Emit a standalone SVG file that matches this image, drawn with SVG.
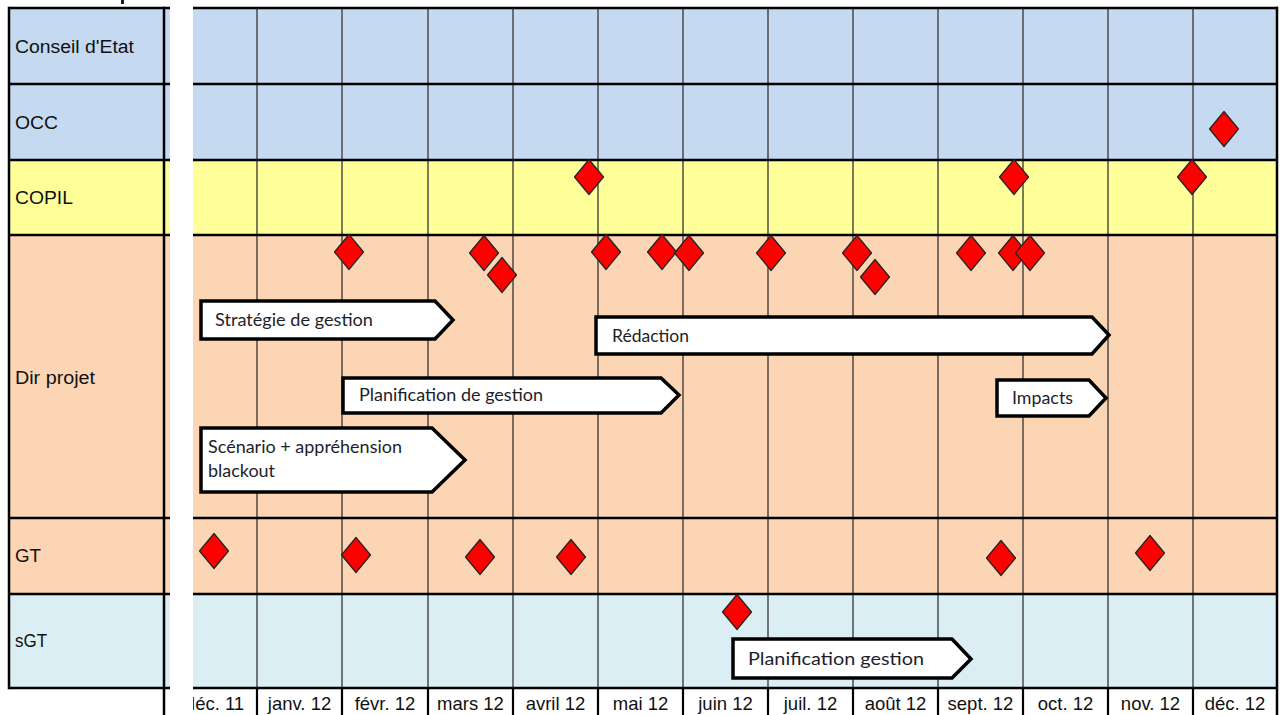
<svg xmlns="http://www.w3.org/2000/svg" xmlns:xlink="http://www.w3.org/1999/xlink" width="1282" height="715" viewBox="0 0 1282 715">
<style>
.lbl{font-family:"Liberation Sans",Arial,sans-serif;font-size:18px;fill:#111}
.ax{font-family:"Liberation Sans",Arial,sans-serif;font-size:18.5px;fill:#111;text-anchor:middle}
.task{fill:#fff;stroke:#000;stroke-width:3.5;stroke-linejoin:miter}
.tt{font-family:Lato,"Open Sans",sans-serif;font-size:17px;fill:#1e1e2a}
.row{stroke:#000;stroke-width:2.5}
.vl{stroke:#333;stroke-width:1.3}
.axl{stroke:#000;stroke-width:2.2}
.ms{fill:#ff0000;stroke:#222;stroke-width:1.2;stroke-linejoin:round}
</style>
<defs>
<polygon id="dia" points="0,-17.5 14.5,0 0,17.5 -14.5,0"/>
<clipPath id="clipAxis"><rect x="193" y="688" width="1090" height="27"/></clipPath>
</defs>
<rect width="1282" height="715" fill="#fff"/>
<rect x="121" y="0" width="3" height="4" fill="#1a1a2a"/>

<g id="lane-conseil">
<rect x="9" y="8" width="161" height="76" fill="#c5d9f1"/>
<rect x="193" y="8" width="1084" height="76" fill="#c5d9f1"/>
<text class="lbl" x="15" y="53" textLength="119" lengthAdjust="spacingAndGlyphs">Conseil d'Etat</text>
</g>
<g id="lane-occ">
<rect x="9" y="84" width="161" height="76" fill="#c5d9f1"/>
<rect x="193" y="84" width="1084" height="76" fill="#c5d9f1"/>
<text class="lbl" x="15" y="129" textLength="43" lengthAdjust="spacingAndGlyphs">OCC</text>
</g>
<g id="lane-copil">
<rect x="9" y="160" width="161" height="75" fill="#ffff99"/>
<rect x="193" y="160" width="1084" height="75" fill="#ffff99"/>
<text class="lbl" x="15" y="204" textLength="58" lengthAdjust="spacingAndGlyphs">COPIL</text>
</g>
<g id="lane-dir">
<rect x="9" y="235" width="161" height="283" fill="#fcd5b4"/>
<rect x="193" y="235" width="1084" height="283" fill="#fcd5b4"/>
<text class="lbl" x="15" y="384" textLength="80" lengthAdjust="spacingAndGlyphs">Dir projet</text>
</g>
<g id="lane-gt">
<rect x="9" y="518" width="161" height="76" fill="#fcd5b4"/>
<rect x="193" y="518" width="1084" height="76" fill="#fcd5b4"/>
<text class="lbl" x="15" y="562" textLength="26" lengthAdjust="spacingAndGlyphs">GT</text>
</g>
<g id="lane-sgt">
<rect x="9" y="594" width="161" height="94" fill="#daeef3"/>
<rect x="193" y="594" width="1084" height="94" fill="#daeef3"/>
<text class="lbl" x="15" y="647" textLength="32" lengthAdjust="spacingAndGlyphs">sGT</text>
</g>

<g id="grid">
<g class="vl">
<line x1="257" y1="8" x2="257" y2="688"/>
<line x1="342" y1="8" x2="342" y2="688"/>
<line x1="428" y1="8" x2="428" y2="688"/>
<line x1="513" y1="8" x2="513" y2="688"/>
<line x1="598" y1="8" x2="598" y2="688"/>
<line x1="683" y1="8" x2="683" y2="688"/>
<line x1="768" y1="8" x2="768" y2="688"/>
<line x1="853" y1="8" x2="853" y2="688"/>
<line x1="938" y1="8" x2="938" y2="688"/>
<line x1="1023" y1="8" x2="1023" y2="688"/>
<line x1="1108" y1="8" x2="1108" y2="688"/>
<line x1="1193" y1="8" x2="1193" y2="688"/>
</g>
<g class="row">
<line x1="9" y1="8" x2="170" y2="8"/>
<line x1="9" y1="84" x2="170" y2="84"/>
<line x1="9" y1="160" x2="170" y2="160"/>
<line x1="9" y1="235" x2="170" y2="235"/>
<line x1="9" y1="518" x2="170" y2="518"/>
<line x1="9" y1="594" x2="170" y2="594"/>
<line x1="9" y1="688" x2="170" y2="688"/>
<line x1="9" y1="6.75" x2="9" y2="689.25"/>
<line x1="164" y1="6.75" x2="164" y2="715"/>
<line x1="193" y1="8" x2="1278" y2="8"/>
<line x1="193" y1="84" x2="1278" y2="84"/>
<line x1="193" y1="160" x2="1278" y2="160"/>
<line x1="193" y1="235" x2="1278" y2="235"/>
<line x1="193" y1="518" x2="1278" y2="518"/>
<line x1="193" y1="594" x2="1278" y2="594"/>
<line x1="193" y1="688" x2="1278" y2="688"/>
<line x1="1277" y1="6.75" x2="1277" y2="715"/>
</g>
<g class="axl">
<line x1="257" y1="688" x2="257" y2="715"/>
<line x1="342" y1="688" x2="342" y2="715"/>
<line x1="428" y1="688" x2="428" y2="715"/>
<line x1="513" y1="688" x2="513" y2="715"/>
<line x1="598" y1="688" x2="598" y2="715"/>
<line x1="683" y1="688" x2="683" y2="715"/>
<line x1="768" y1="688" x2="768" y2="715"/>
<line x1="853" y1="688" x2="853" y2="715"/>
<line x1="938" y1="688" x2="938" y2="715"/>
<line x1="1023" y1="688" x2="1023" y2="715"/>
<line x1="1108" y1="688" x2="1108" y2="715"/>
<line x1="1193" y1="688" x2="1193" y2="715"/>
</g>
</g>

<g id="axis">
<text class="ax" x="214.5" y="710" clip-path="url(#clipAxis)">déc. 11</text>
<text class="ax" x="299.5" y="710">janv. 12</text>
<text class="ax" x="385" y="710">févr. 12</text>
<text class="ax" x="470.5" y="710">mars 12</text>
<text class="ax" x="555.5" y="710">avril 12</text>
<text class="ax" x="640.5" y="710">mai 12</text>
<text class="ax" x="725.5" y="710">juin 12</text>
<text class="ax" x="810.5" y="710">juil. 12</text>
<text class="ax" x="895.5" y="710">août 12</text>
<text class="ax" x="980.5" y="710">sept. 12</text>
<text class="ax" x="1065.5" y="710">oct. 12</text>
<text class="ax" x="1150.5" y="710">nov. 12</text>
<text class="ax" x="1235" y="710">déc. 12</text>
</g>

<g id="tasks">
<g id="task-strategie">
<polygon class="task" points="201,301 435,301 453,320 435,339 201,339"/>
<text class="tt" x="215" y="326" textLength="158" lengthAdjust="spacingAndGlyphs">Stratégie de gestion</text>
</g>
<g id="task-redaction">
<polygon class="task" points="596,317 1092,317 1109,335 1092,354 596,354"/>
<text class="tt" x="612" y="342" textLength="77" lengthAdjust="spacingAndGlyphs">Rédaction</text>
</g>
<g id="task-planif">
<polygon class="task" points="343,378 661,378 679,395 661,413 343,413"/>
<text class="tt" x="359" y="401" textLength="184" lengthAdjust="spacingAndGlyphs">Planification de gestion</text>
</g>
<g id="task-impacts">
<polygon class="task" points="997,380 1089,380 1106,398 1089,416 997,416"/>
<text class="tt" x="1012" y="404" textLength="61" lengthAdjust="spacingAndGlyphs">Impacts</text>
</g>
<g id="task-scenario">
<polygon class="task" points="201,428 432,428 465,460 432,492 201,492"/>
<text class="tt" x="208" y="453" textLength="194" lengthAdjust="spacingAndGlyphs">Scénario + appréhension</text>
<text class="tt" x="208" y="477" textLength="67" lengthAdjust="spacingAndGlyphs">blackout</text>
</g>
<g id="task-planif-sgt">
<polygon class="task" points="733,639 952,639 971,659 952,678 733,678"/>
<text class="tt" x="748" y="665" textLength="176" lengthAdjust="spacingAndGlyphs">Planification gestion</text>
</g>
</g>

<g id="milestones">
<use xlink:href="#dia" class="ms" x="1224" y="129"/>
<use xlink:href="#dia" class="ms" x="589" y="177"/>
<use xlink:href="#dia" class="ms" x="1014" y="177"/>
<use xlink:href="#dia" class="ms" x="1192" y="177"/>
<use xlink:href="#dia" class="ms" x="349" y="252"/>
<use xlink:href="#dia" class="ms" x="484" y="253"/>
<use xlink:href="#dia" class="ms" x="502" y="275"/>
<use xlink:href="#dia" class="ms" x="606" y="252"/>
<use xlink:href="#dia" class="ms" x="662" y="252"/>
<use xlink:href="#dia" class="ms" x="689" y="253"/>
<use xlink:href="#dia" class="ms" x="771" y="253"/>
<use xlink:href="#dia" class="ms" x="857" y="253"/>
<use xlink:href="#dia" class="ms" x="875" y="277"/>
<use xlink:href="#dia" class="ms" x="971" y="253"/>
<use xlink:href="#dia" class="ms" x="1013" y="253"/>
<use xlink:href="#dia" class="ms" x="1030" y="253"/>
<use xlink:href="#dia" class="ms" x="214" y="551"/>
<use xlink:href="#dia" class="ms" x="356" y="555"/>
<use xlink:href="#dia" class="ms" x="480" y="557"/>
<use xlink:href="#dia" class="ms" x="571" y="557"/>
<use xlink:href="#dia" class="ms" x="1001" y="558"/>
<use xlink:href="#dia" class="ms" x="1150" y="553"/>
<use xlink:href="#dia" class="ms" x="737" y="612"/>
</g>
</svg>
